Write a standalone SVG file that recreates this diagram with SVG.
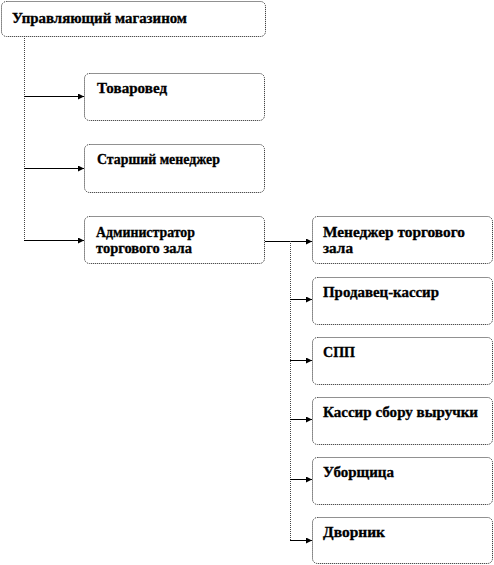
<svg xmlns="http://www.w3.org/2000/svg" width="494" height="565" viewBox="0 0 494 565">
<defs>
<style>
.box{fill:#fff;stroke:#222;stroke-width:1;stroke-dasharray:1 1}
text{font-family:"Liberation Serif",serif;font-weight:bold;font-size:14px;fill:#000;stroke:#000;stroke-width:0.3}
.h{stroke:#000;stroke-width:1;fill:none}
.v{stroke:#444;stroke-width:1;fill:none;stroke-dasharray:1 1}
</style>
<marker id="ar" markerWidth="6" markerHeight="6" refX="6" refY="3" orient="auto" markerUnits="userSpaceOnUse">
<path d="M0,0 L6,3 L0,6 Z" fill="#000"/>
</marker>
</defs>
<rect width="494" height="565" fill="#fff"/>
<g id="connectors">
<path class="v" d="M24.5,36 V240.5"/>
<path class="h" d="M24,96.5 H84" marker-end="url(#ar)"/>
<path class="h" d="M24,168.5 H84" marker-end="url(#ar)"/>
<path class="h" d="M24,240.5 H84" marker-end="url(#ar)"/>
<path class="h" d="M265,241.5 H312" marker-end="url(#ar)"/>
<path class="v" d="M290.5,241 V540.5"/>
<path class="h" d="M290,299.5 H312" marker-end="url(#ar)"/>
<path class="h" d="M290,360.5 H312" marker-end="url(#ar)"/>
<path class="h" d="M290,419.5 H312" marker-end="url(#ar)"/>
<path class="h" d="M290,479.5 H312" marker-end="url(#ar)"/>
<path class="h" d="M290,540.5 H312" marker-end="url(#ar)"/>
</g>
<g id="n0"><rect class="box" x="1.5" y="1.5" width="264" height="35" rx="5"/><text x="12" y="23" textLength="175" lengthAdjust="spacingAndGlyphs">Управляющий магазином</text></g>
<g id="n1"><rect class="box" x="84.5" y="73.5" width="180" height="47" rx="5"/><text x="97" y="93" textLength="70" lengthAdjust="spacingAndGlyphs">Товаровед</text></g>
<g id="n2"><rect class="box" x="84.5" y="144.5" width="180" height="48" rx="5"/><text x="97" y="164" textLength="123" lengthAdjust="spacingAndGlyphs">Старший менеджер</text></g>
<g id="n3"><rect class="box" x="84.5" y="216.5" width="180" height="47" rx="5"/><text x="96" y="237" textLength="99" lengthAdjust="spacingAndGlyphs">Администратор</text><text x="96" y="253" textLength="96" lengthAdjust="spacingAndGlyphs">торгового зала</text></g>
<g id="n4"><rect class="box" x="312.5" y="216.5" width="180" height="47" rx="5"/><text x="323" y="237" textLength="142" lengthAdjust="spacingAndGlyphs">Менеджер торгового</text><text x="323" y="253" textLength="30" lengthAdjust="spacingAndGlyphs">зала</text></g>
<g id="n5"><rect class="box" x="312.5" y="277.5" width="180" height="47" rx="5"/><text x="323" y="297" textLength="116" lengthAdjust="spacingAndGlyphs">Продавец-кассир</text></g>
<g id="n6"><rect class="box" x="312.5" y="337.5" width="180" height="47" rx="5"/><text x="323" y="357" textLength="32" lengthAdjust="spacingAndGlyphs">СПП</text></g>
<g id="n7"><rect class="box" x="312.5" y="397.5" width="180" height="47" rx="5"/><text x="323" y="417" textLength="155" lengthAdjust="spacingAndGlyphs">Кассир сбору выручки</text></g>
<g id="n8"><rect class="box" x="312.5" y="457.5" width="180" height="47" rx="5"/><text x="323" y="477" textLength="71" lengthAdjust="spacingAndGlyphs">Уборщица</text></g>
<g id="n9"><rect class="box" x="312.5" y="517.5" width="180" height="46" rx="5"/><text x="323" y="537" textLength="62" lengthAdjust="spacingAndGlyphs">Дворник</text></g>
</svg>
